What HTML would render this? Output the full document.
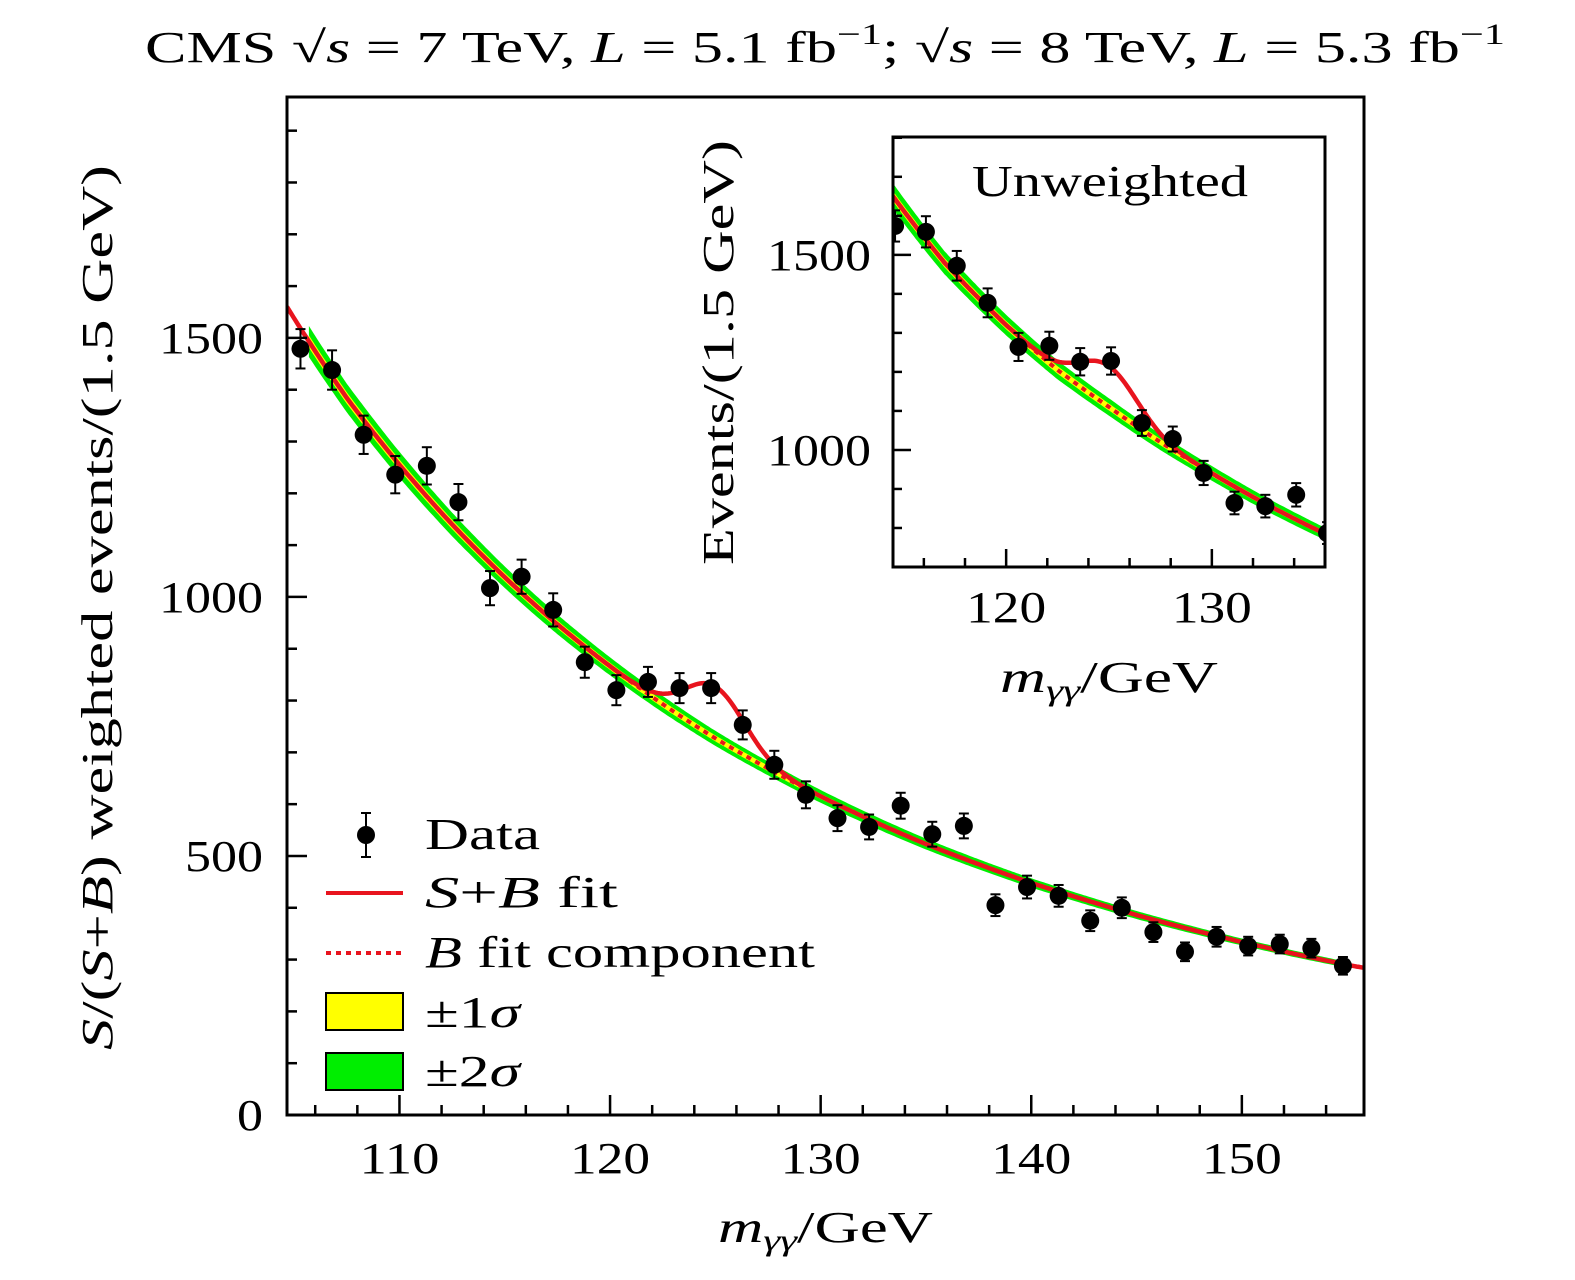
<!DOCTYPE html>
<html><head><meta charset="utf-8"><style>
html,body{margin:0;padding:0;background:#fff;overflow:hidden;width:1575px;height:1280px}
svg{display:block;font-family:"Liberation Serif","DejaVu Serif",serif}
</style></head><body>
<svg id="c" width="1575" height="1280" viewBox="0 0 1575 1280" xmlns="http://www.w3.org/2000/svg">
<text x="145" y="62" font-size="44" textLength="1360" lengthAdjust="spacingAndGlyphs">CMS √<tspan font-style="italic">s</tspan> = 7 TeV, <tspan font-style="italic">L</tspan> = 5.1 fb<tspan dy="-18" font-size="30">−1</tspan><tspan dy="18">; √</tspan><tspan font-style="italic">s</tspan> = 8 TeV, <tspan font-style="italic">L</tspan> = 5.3 fb<tspan dy="-18" font-size="30">−1</tspan></text>
<g id="main"></g>
<g id="inset"></g>
<text transform="translate(112,1050) rotate(-90)" font-size="44" textLength="885" lengthAdjust="spacingAndGlyphs"><tspan font-style="italic">S</tspan>/(<tspan font-style="italic">S</tspan>+<tspan font-style="italic">B</tspan>) weighted events/(1.5 GeV)</text>
<text x="718" y="1242" font-size="44" textLength="215" lengthAdjust="spacingAndGlyphs"><tspan font-style="italic">m</tspan><tspan font-style="italic" font-size="30" dy="8">γγ</tspan><tspan dy="-8">/GeV</tspan></text>
<text transform="translate(733,565) rotate(-90)" font-size="44" textLength="425" lengthAdjust="spacingAndGlyphs">Events/(1.5 GeV)</text>
<text x="1000" y="692" font-size="44" textLength="218" lengthAdjust="spacingAndGlyphs"><tspan font-style="italic">m</tspan><tspan font-style="italic" font-size="30" dy="8">γγ</tspan><tspan dy="-8">/GeV</tspan></text>
<text x="972" y="196" font-size="44" textLength="276" lengthAdjust="spacingAndGlyphs">Unweighted</text>
<g id="legend">
 <g>
  <line x1="366" y1="813" x2="366" y2="857" stroke="#000" stroke-width="2"/>
  <line x1="361" y1="813" x2="371" y2="813" stroke="#000" stroke-width="2"/>
  <line x1="361" y1="857" x2="371" y2="857" stroke="#000" stroke-width="2"/>
  <circle cx="366" cy="835" r="9"/>
  <text x="425" y="849" font-size="44" textLength="115" lengthAdjust="spacingAndGlyphs">Data</text>
 </g>
 <g>
  <line x1="326" y1="893" x2="403" y2="893" stroke="#e8141e" stroke-width="4"/>
  <text x="425" y="907" font-size="44" textLength="193" lengthAdjust="spacingAndGlyphs"><tspan font-style="italic">S</tspan>+<tspan font-style="italic">B</tspan> fit</text>
 </g>
 <g>
  <line x1="326" y1="953" x2="403" y2="953" stroke="#e8141e" stroke-width="4" stroke-dasharray="5,5"/>
  <text x="425" y="967" font-size="44" textLength="390" lengthAdjust="spacingAndGlyphs"><tspan font-style="italic">B</tspan> fit component</text>
 </g>
 <g>
  <rect x="326" y="993" width="77" height="37" fill="#ffff00" stroke="#000" stroke-width="2"/>
  <text x="425" y="1027" font-size="44" textLength="95" lengthAdjust="spacingAndGlyphs">±1<tspan font-style="italic">σ</tspan></text>
 </g>
 <g>
  <rect x="326" y="1053" width="77" height="37" fill="#00ee00" stroke="#000" stroke-width="2"/>
  <text x="425" y="1086" font-size="44" textLength="95" lengthAdjust="spacingAndGlyphs">±2<tspan font-style="italic">σ</tspan></text>
 </g>
</g>
</svg>
<script>
// ---- main chart data ----
const mainMass = [105.3,106.8,108.3,109.8,111.3,112.8,114.3,115.8,117.3,118.8,120.3,121.8,123.3,124.8,126.3,127.8,129.3,130.8,132.3,133.8,135.3,136.8,138.3,139.8,141.3,142.8,144.3,145.8,147.3,148.8,150.3,151.8,153.3,154.8];
const mainEvents = [1479,1438,1313,1236,1253,1183,1017,1039,975,874,820,836,824,824,753,676,618,573,556,597,542,558,405,440,423,375,400,353,315,344,326,330,322,288];
const mainErr = [38,38,37,36,36,35,33,33,32,30,29,29,29,29,28,27,26,25,24,25,24,24,21,22,21,20,20,19,18,19,18,18,18,17];
const mainBkgMass = [104.66,107.5,110,112.5,115,117.5,120,122.5,125,127.5,130,132.5,135,137.5,140,142.5,145,147.5,150,152.5,155,155.8];
const mainBkg = [1560,1384,1255,1140,1038,947,866,793,727,669,615,567,523,484,448,416,386,359,334,311,290,284];
const mainSignal = [125, 100, 1.4]; // mass, peak height, width
const mainXTicks = [110,120,130,140,150];
const mainYTicks = [0,500,1000,1500];
// ---- inset data ----
const insetMass = [114.6,116.1,117.6,119.1,120.6,122.1,123.6,125.1,126.6,128.1,129.6,131.1,132.6,134.1,135.6];
const insetEvents = [1574,1559,1472,1377,1264,1267,1226,1228,1069,1028,941,864,856,885,787];
const insetErr = [40,40,38,37,36,36,35,35,33,32,31,29,29,30,28];
const insetBkgMass = [114.5,117,120,122.5,125,127.5,130,132.5,135.5];
const insetBkg = [1650,1480,1320,1205,1110,1020,940,865,785];
const insetSignal = [125, 105, 1.4];
const insetXTicks = [120,130];
const insetYTicks = [1000,1500];

const NS="http://www.w3.org/2000/svg";
function mk(tag, attrs, parent){const e=document.createElementNS(NS,tag);for(const k in attrs)e.setAttribute(k,attrs[k]);parent.appendChild(e);return e;}
function interp(xs,ys,x){
  let i=0;
  if(x<=xs[0])i=0;else if(x>=xs[xs.length-1])i=xs.length-2;else{while(x>xs[i+1])i++;}
  const t=(x-xs[i])/(xs[i+1]-xs[i]);return Math.exp(Math.log(ys[i])+t*(Math.log(ys[i+1])-Math.log(ys[i])));
}
function drawPlot(g, cfg){
  const {L,R,T,B,x0,x1,y0,y1}=cfg;
  const sx=v=>L+(v-x0)/(x1-x0)*(R-L);
  const sy=v=>B-(v-y0)/(y1-y0)*(B-T);
  const id=cfg.id;
  const defs=mk('defs',{},g);
  const cp=mk('clipPath',{id:id+'clip'},defs);
  mk('rect',{x:L,y:T,width:R-L,height:B-T},cp);
  const plot=mk('g',{'clip-path':'url(#'+id+'clip)'},g);
  const bk=x=>interp(cfg.bx,cfg.by,x);
  const sb=x=>bk(x)+cfg.sig[1]*Math.exp(-0.5*Math.pow((x-cfg.sig[0])/cfg.sig[2],2));
  const xs=[];for(let x=cfg.bandFrom;x<=cfg.bandTo+1e-9;x+=0.1)xs.push(x);
  function band(f,fill,name){
    let d='M';xs.forEach((x,i)=>{d+=(i?'L':'')+sx(x).toFixed(1)+','+sy(bk(x)*(1+f)).toFixed(1);});
    for(let i=xs.length-1;i>=0;i--){d+='L'+sx(xs[i]).toFixed(1)+','+sy(bk(xs[i])*(1-f)).toFixed(1);}
    const p=mk('path',{d:d+'Z',fill:fill},plot);
    
    
  }
  band(cfg.b2,'#00ee00',id+'-band-2sigma');
  band(cfg.b1,'#ffff00',id+'-band-1sigma');
  const all=[];for(let x=x0;x<=x1+1e-9;x+=0.1)all.push(x);
  let db='',ds='';
  all.forEach((x,i)=>{db+=(i?'L':'M')+sx(x).toFixed(1)+','+sy(bk(x)).toFixed(1);ds+=(i?'L':'M')+sx(x).toFixed(1)+','+sy(sb(x)).toFixed(1);});
  const pb=mk('path',{d:db,fill:'none',stroke:'#e8141e','stroke-width':4,'stroke-dasharray':'5,5'},plot);
  
  
  const ps=mk('path',{d:ds,fill:'none',stroke:'#e8141e','stroke-width':4.5},plot);
  
  
  cfg.mx.forEach((m,i)=>{
    const cx=sx(m),cy=sy(cfg.ev[i]),e1=sy(cfg.ev[i]+cfg.er[i]),e2=sy(cfg.ev[i]-cfg.er[i]);
    const pg=mk('g',{},plot);
    
    
    mk('line',{x1:cx,y1:e1,x2:cx,y2:e2,stroke:'#000','stroke-width':2},pg);
    mk('line',{x1:cx-5,y1:e1,x2:cx+5,y2:e1,stroke:'#000','stroke-width':2},pg);
    mk('line',{x1:cx-5,y1:e2,x2:cx+5,y2:e2,stroke:'#000','stroke-width':2},pg);
    mk('circle',{cx:cx,cy:cy,r:9,fill:'#000'},pg);
  });
  const fr=mk('rect',{x:L,y:T,width:R-L,height:B-T,fill:'none',stroke:'#000','stroke-width':3},g);
  
  
  for(let v=Math.ceil(x0/cfg.xMinor)*cfg.xMinor;v<=x1;v+=cfg.xMinor){
    const major=Math.abs(v/cfg.xMajor-Math.round(v/cfg.xMajor))<1e-6;
    mk('line',{x1:sx(v),y1:B,x2:sx(v),y2:B-(major?cfg.majLen:cfg.minLen),stroke:'#000','stroke-width':2.5},g);
  }
  cfg.xt.forEach(v=>{const t=mk('text',{x:sx(v)-40,y:B+cfg.xlOff,'font-size':44,textLength:80,lengthAdjust:'spacingAndGlyphs'},g);t.textContent=v;
    
    });
  for(let v=Math.ceil(y0/cfg.yMinor)*cfg.yMinor;v<=y1;v+=cfg.yMinor){
    const major=Math.abs(v/cfg.yMajor-Math.round(v/cfg.yMajor))<1e-6;
    mk('line',{x1:L,y1:sy(v),x2:L+(major?cfg.majLen:cfg.minLen),y2:sy(v),stroke:'#000','stroke-width':2.5},g);
  }
  cfg.yt.forEach(v=>{const s=String(v);const w=s.length*26;const t=mk('text',{x:L-cfg.ylOff-w,y:sy(v)+15,'font-size':44,textLength:w,lengthAdjust:'spacingAndGlyphs'},g);t.textContent=s;
    
    });
}
drawPlot(document.getElementById('main'),{id:'main',L:287,R:1364,T:97,B:1115,x0:104.66,x1:155.8,y0:0,y1:1965,
  mx:mainMass,ev:mainEvents,er:mainErr,bx:mainBkgMass,by:mainBkg,sig:mainSignal,b1:0.008,b2:0.02,bandFrom:105.7,bandTo:155.2,
  xMinor:2,xMajor:10,yMinor:100,yMajor:500,majLen:20,minLen:10,xt:mainXTicks,yt:mainYTicks,xlOff:58,ylOff:24});
drawPlot(document.getElementById('inset'),{id:'inset',L:893,R:1325,T:137,B:567,x0:114.5,x1:135.5,y0:700,y1:1802,
  mx:insetMass,ev:insetEvents,er:insetErr,bx:insetBkgMass,by:insetBkg,sig:insetSignal,b1:0.008,b2:0.02,bandFrom:114.5,bandTo:135.5,
  xMinor:2,xMajor:10,yMinor:100,yMajor:500,majLen:18,minLen:9,xt:insetXTicks,yt:insetYTicks,xlOff:55,ylOff:22});
</script>
</body></html>
